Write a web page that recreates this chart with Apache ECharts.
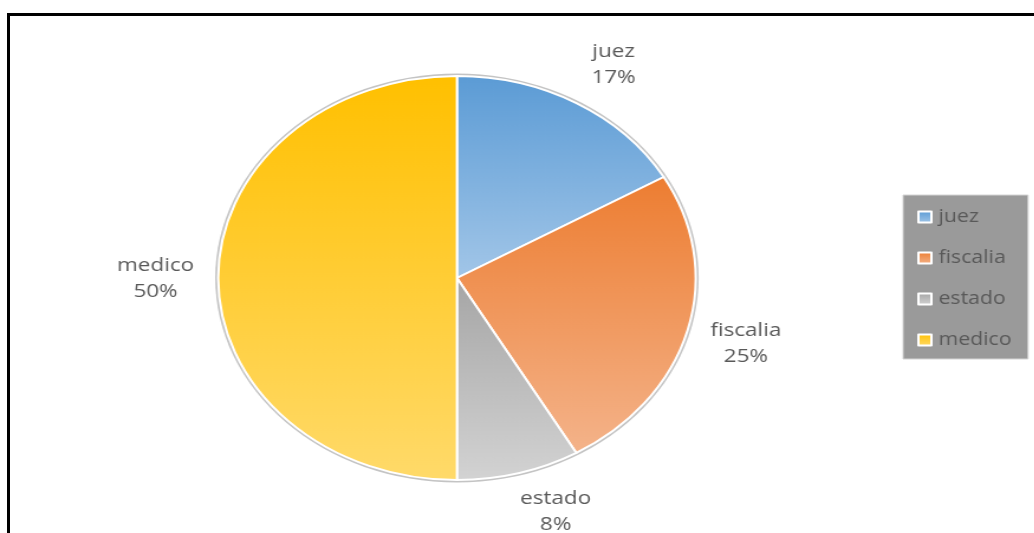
<!DOCTYPE html>
<html>
<head>
<meta charset="utf-8">
<script src="https://cdn.jsdelivr.net/npm/echarts@6/dist/echarts.min.js"></script>
<style>
  html, body { margin: 0; padding: 0; background: #fff; width: 1034px; height: 533px; overflow: hidden; }
  #frame { position: absolute; left: 7px; top: 13px; width: 1040px; height: 600px;
           border-top: 3px solid #000; border-left: 3px solid #000; box-sizing: border-box; }
  /* the chart is laid out narrower and widened so the pie becomes an oval */
  #chart { position: absolute; left: 0; top: 0; width: 875px; height: 533px;
           transform: scaleX(1.182); transform-origin: 0 0; }
</style>
</head>
<body>
<div id="frame"></div>
<div id="chart"></div>
<script>
// Responses per institution
const categories = ['juez', 'fiscalia', 'estado', 'medico'];
const counts = [2, 3, 1, 6];
// Top and bottom shades of each slice's vertical gradient
const topColors = ['#5B9BD5', '#ED7D31', '#A5A5A5', '#FFC000'];
const bottomColors = ['#A2C6E8', '#F4B38A', '#D3D3D3', '#FFDA6A'];

const grad = (a, b) => new echarts.graphic.LinearGradient(0, 0, 0, 1, [
  { offset: 0, color: a }, { offset: 1, color: b }
]);

// small nudges so the outer labels sit snugly against the rim
const labelNudge = { juez: [6, 6], fiscalia: [0, 0], estado: [18, -11], medico: [-2, 1] };

const sliceData = categories.map((name, i) => ({
  name,
  value: counts[i],
  itemStyle: { color: grad(topColors[i], bottomColors[i]) }
}));

const chart = echarts.init(document.getElementById('chart'), null, { renderer: 'canvas' });
const center = [386.6, 278];
const textColor = '#595959';
const font = '"Open Sans", "Noto Sans", sans-serif';

chart.setOption({
  animation: false,
  backgroundColor: 'transparent',
  legend: {
    orient: 'vertical',
    left: 764,
    top: 195,
    data: categories,
    backgroundColor: '#9A9A9A',
    borderColor: '#D4D4D4',
    borderWidth: 1,
    padding: [11, 14, 8, 12],
    itemGap: 19,
    itemWidth: 11,
    itemHeight: 11,
    icon: 'rect',
    itemStyle: { borderColor: '#ffffff', borderWidth: 2 },
    textStyle: { color: textColor, fontSize: 18, lineHeight: 22, fontFamily: font, padding: [0, 0, 0, 1] },
    selectedMode: false
  },
  series: [
    {
      // thin grey rim around the pie
      type: 'pie',
      silent: true,
      center,
      radius: [0, 204.5],
      label: { show: false },
      labelLine: { show: false },
      itemStyle: { color: '#C4C4C4' },
      data: [{ name: '', value: 1 }],
      z: 1
    },
    {
      name: 'institucion',
      type: 'pie',
      center,
      radius: [0, 202],
      startAngle: 90,
      clockwise: true,
      percentPrecision: 0,
      label: { show: false },
      labelLine: { show: false },
      itemStyle: { borderColor: '#ffffff', borderWidth: 2 },
      emphasis: { disabled: true },
      data: sliceData,
      z: 2
    },
    {
      // category name and share, set just outside each slice
      type: 'pie',
      silent: true,
      center,
      radius: [240, 260],
      startAngle: 90,
      clockwise: true,
      percentPrecision: 0,
      itemStyle: { color: 'rgba(0,0,0,0)' },
      label: {
        show: true,
        position: 'inside',
        formatter: '{b}\n{d}%',
        color: textColor,
        fontSize: 19,
        lineHeight: 26,
        fontFamily: font,
        align: 'center'
      },
      labelLine: { show: false },
      emphasis: { disabled: true },
      data: categories.map((name, i) => ({
        name,
        value: counts[i],
        label: { offset: labelNudge[name] }
      })),
      z: 3
    }
  ]
});
</script>
</body>
</html>
